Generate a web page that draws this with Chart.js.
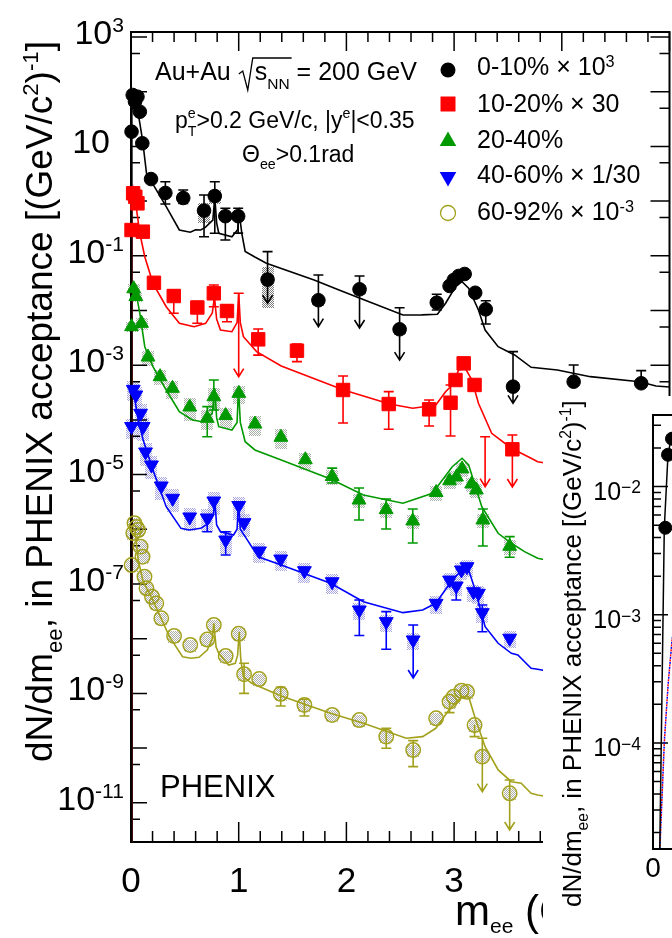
<!DOCTYPE html>
<html>
<head>
<meta charset="utf-8">
<title>PHENIX dielectron mass spectra</title>
<script src="https://cdn.jsdelivr.net/npm/chart.js@4.4.1/dist/chart.umd.min.js"></script>
<style>
  html, body { margin: 0; padding: 0; background: #fff; overflow: hidden; }
  #wrap { position: relative; width: 672px; height: 938px; overflow: hidden; }
  #main { position: absolute; left: 0; top: 0; }
  #inset { position: absolute; left: 543px; top: 396px; background: #fff; }
</style>
</head>
<body>
<div id="wrap">
  <canvas id="main" width="680" height="938"></canvas>
  <canvas id="inset" width="420" height="542"></canvas>
</div>
<script>
const _ = null;

// 0-10% x 10^3
const bkM = [0.005, 0.016, 0.037, 0.06, 0.082, 0.105, 0.186, 0.319, 0.485, 0.678, 0.778, 0.876, 0.995, 1.268, 1.74, 2.122, 2.494, 2.839, 2.958, 2.997, 3.043, 3.098, 3.196, 3.294, 3.547, 4.11, 4.737];
const bkY = [18.6, 87, 66, 81, 43, 11.4, 2.53, 1.41, 1.14, 0.67, 1.24, 0.53, 0.53, 0.0367, 0.0154, 0.0244, 0.00453, 0.0139, 0.0281, 0.0361, 0.0428, 0.0465, 0.0211, 0.0105, 4.05e-4, 4.99e-4, 4.67e-4];
const bkHi = [_, _, _, _, _, _, _, 2.26, 1.6, 1.29, 2.26, 0.738, 0.738, 0.119, 0.0446, 0.0428, 0.0112, 0.0198, _, _, _, _, _, 0.0151, 1.77e-3, 1.01e-3, 7.94e-4];
const bkLo = [_, _, _, _, _, _, _, 0.885, 0.91, 0.223, 0.258, 0.195, 0.26, 0.01355, 5.06e-3, 4.79e-3, 1.24e-3, 0.0102, _, _, _, _, _, 0.00566, 2.01e-4, _, _];
const bkLim = [0, 0, 0, 0, 0, 0, 0, 0, 0, 0, 0, 0, 0, 1, 1, 1, 1, 0, 0, 0, 0, 0, 0, 0, 1, 0, 0];
const bkSys = [0.1, 0.1, 0.1, 0.1, 0.1, 0.1, 0.1, 0.15, 0.15, 0.4, 0.3, 0.15, 0.15, 0.7, 0.2, 0.2, 0.2, 0.15, 0.1, 0.1, 0.1, 0.1, 0.1, 0.15, 0.2, 0.15, 0.15];
const bkCurveM = [0, 0.008, 0.02, 0.037, 0.067, 0.107, 0.144, 0.235, 0.327, 0.449, 0.55, 0.6, 0.647, 0.69, 0.76, 0.778, 0.795, 0.815, 0.937, 0.99, 1.005, 1.03, 1.06, 1.15, 1.257, 1.70, 1.914, 2.127, 2.525, 2.7, 2.845, 2.921, 3.013, 3.074, 3.135, 3.226, 3.288, 3.409, 3.562, 3.715, 3.959, 4.265, 4.722, 4.875, 5.0];
const bkCurveY = [1e-13, 40, 90, 94.7, 40.3, 13.1, 3.22, 1.6, 0.79, 0.297, 0.27, 0.30, 0.297, 0.33, 0.45, 1.2, 0.4, 0.258, 0.223, 0.3, 0.6, 0.25, 0.12, 0.095, 0.073, 0.0361, 0.0245, 0.0167, 0.00828, 0.0083, 0.00851, 0.01355, 0.0272, 0.0336, 0.0255, 0.0102, 0.0044, 0.00218, 0.00154, 9.16e-4, 8.17e-4, 6.17e-4, 4.99e-4, 4.17e-4, 4.0e-4];

// 10-20% x 30
const rdM = [0.005, 0.02, 0.04, 0.06, 0.11, 0.213, 0.397, 0.616, 0.769, 0.891, 1.0, 1.181, 1.541, 1.969, 2.393, 2.768, 2.967, 3.013, 3.089, 3.19, 3.288, 3.541];
const rdY = [0.296, 1.39, 1.2, 0.91, 0.276, 0.0321, 0.0184, 0.01135, 0.0206, 0.0098, 0.0206, 0.00297, 0.00184, 3.52e-4, 1.95e-4, 1.56e-4, 2.06e-4, 5.36e-4, 1.08e-3, 4.35e-4, 4.93e-5, 2.9e-5];
const rdHi = [_, _, _, _, _, _, 0.0237, 0.0145, 0.0292, 0.0126, 0.0206, 0.00459, 0.00244, 6.35e-4, 3.28e-4, 2.31e-4, 4.35e-4, _, _, _, 4.93e-5, 5.3e-5];
const rdLo = [_, _, _, _, _, _, 0.00889, 0.00583, 0.0117, 0.00624, 6.17e-4, 0.00153, 0.00116, 8.77e-5, 6.73e-5, 7.73e-5, 5.08e-5, _, _, _, 6.01e-6, 5.93e-6];
const rdLim = [0, 0, 0, 0, 0, 0, 0, 0, 0, 0, 2, 0, 0, 0, 0, 0, 0, 0, 0, 0, 2, 1];
const rdSys = [0.15, 0.15, 0.15, 0.15, 0.15, 0.15, 0.15, 0.15, 0.15, 0.15, 0, 0.15, 0.15, 0.15, 0.15, 0.15, 0.15, 0.15, 0.15, 0.15, 0, 0.15];
const rdCurveM = [0, 0.008, 0.021, 0.052, 0.082, 0.128, 0.204, 0.327, 0.449, 0.586, 0.693, 0.755, 0.775, 0.795, 0.831, 0.937, 0.985, 1.0, 1.015, 1.044, 1.166, 1.395, 1.975, 2.402, 2.616, 2.83, 2.921, 2.983, 3.043, 3.104, 3.166, 3.226, 3.349, 3.532, 3.715, 3.776, 4.5, 5.0];
const rdCurveY = [1e-13, 0.8, 1.6, 0.69, 0.258, 0.0962, 0.0314, 0.0117, 0.00583, 0.00506, 0.00583, 0.009, 0.0179, 0.007, 0.0044, 0.0041, 0.006, 0.0206, 0.006, 0.00332, 0.00177, 9.66e-4, 3.52e-4, 1.95e-4, 1.63e-4, 1.87e-4, 3.28e-4, 4.35e-4, 8.17e-4, 8.77e-4, 5.36e-4, 2.01e-4, 5.69e-5, 3.03e-5, 1.99e-5, 1.72e-5, 1e-5, 8e-6];

// 20-40%
const grM = [0.005, 0.025, 0.045, 0.098, 0.158, 0.27, 0.385, 0.545, 0.708, 0.769, 0.879, 1.001, 1.151, 1.392, 1.619, 1.868, 2.117, 2.369, 2.616, 2.833, 2.958, 3.022, 3.074, 3.163, 3.207, 3.267, 3.516];
const grY = [5.06e-3, 0.025, 0.018, 5.83e-3, 1.41e-3, 6.17e-4, 3.78e-4, 1.72e-4, 1.07e-4, 2.65e-4, 1.2e-4, 3.06e-4, 8.41e-5, 4.81e-5, 1.87e-5, 9.22e-6, 3.43e-6, 2.29e-6, 1.42e-6, 4.71e-6, 7.71e-6, 9.04e-6, 1.27e-5, 6.73e-6, 5.23e-6, 1.48e-6, 4.89e-7];
const grHi = [_, _, _, _, _, _, _, _, 1.75e-4, 5.36e-4, _, _, _, _, _, 1.31e-5, 5.69e-6, 3.58e-6, 2.35e-6, _, _, _, _, _, _, 2.35e-6, 7.33e-7];
const grLo = [_, _, _, _, _, _, _, _, 4.93e-5, 1.52e-4, _, _, _, _, _, 7.02e-6, 1.48e-6, 1.01e-6, 5.61e-7, _, _, _, _, _, _, 4.94e-7, 3.08e-7];
const grLim = [0, 0, 0, 0, 0, 0, 0, 0, 0, 0, 0, 0, 0, 0, 0, 0, 0, 0, 0, 0, 0, 0, 0, 0, 0, 0, 0];
const grSys = [0.2, 0.2, 0.2, 0.25, 0.3, 0.3, 0.35, 0.45, 0.4, 0.45, 0.4, 0.35, 0.4, 0.4, 0.35, 0.3, 0.3, 0.3, 0.3, 0.3, 0.3, 0.3, 0.3, 0.3, 0.3, 0.3, 0.3];
const grCurveM = [0, 0.008, 0.037, 0.082, 0.128, 0.204, 0.327, 0.449, 0.571, 0.662, 0.754, 0.778, 0.795, 0.815, 0.937, 0.985, 0.998, 1.015, 1.06, 1.151, 1.395, 1.853, 2.158, 2.525, 2.799, 2.983, 3.074, 3.135, 3.257, 3.409, 3.532, 3.654, 3.776, 4.5, 5.0];
const grCurveY = [1e-13, 0.02, 0.0272, 0.00889, 0.00218, 9.4e-4, 3.52e-4, 1.41e-4, 9.96e-5, 9.27e-5, 1.32e-4, 3.78e-4, 1.1e-4, 7.52e-5, 6.53e-5, 9e-5, 3.78e-4, 9e-5, 3.99e-5, 2.82e-5, 1.85e-5, 8.31e-6, 4.24e-6, 2.99e-6, 4.55e-6, 1.39e-5, 1.99e-5, 1.5e-5, 2.59e-6, 8.45e-7, 5.55e-7, 3.9e-7, 2.95e-7, 1.5e-7, 1.2e-7];

// 40-60% x 1/30
const blM = [0.005, 0.021, 0.045, 0.089, 0.113, 0.135, 0.19, 0.281, 0.387, 0.545, 0.708, 0.769, 0.879, 1.0, 1.05, 1.193, 1.39, 1.61, 1.868, 2.12, 2.37, 2.62, 2.833, 2.958, 3.02, 3.068, 3.12, 3.18, 3.226, 3.262, 3.516];
const blY = [7.57e-5, 3.62e-4, 2.85e-4, 1.32e-4, 7.57e-5, 2.59e-5, 1.5e-5, 6.19e-6, 3.69e-6, 1.68e-6, 1.61e-6, 3.29e-6, 6.37e-7, 2.72e-6, 1.32e-6, 4.01e-7, 2.86e-7, 1.75e-7, 1.1e-7, 3.35e-8, 2.05e-8, 9.47e-9, 4.43e-8, 1.18e-7, 9.19e-8, 1.8e-7, 2.07e-7, 7.23e-8, 6.76e-8, 2.99e-8, 1.02e-8];
const blHi = [_, _, _, _, _, _, _, _, _, _, _, _, 9.04e-7, _, _, _, _, _, _, 5.09e-8, 3.12e-8, 1.78e-8, _, _, _, _, _, _, _, 4.13e-8, _];
const blLo = [_, _, _, _, _, _, _, _, _, _, 9.04e-7, _, 3.39e-7, _, _, _, _, _, _, 1.14e-8, 6.4e-9, 1.91e-9, _, _, 5.09e-8, _, _, _, _, 1.34e-8, _];
const blLim = [0, 0, 0, 0, 0, 0, 0, 0, 0, 0, 0, 0, 0, 0, 0, 0, 0, 0, 0, 0, 0, 1, 0, 0, 0, 0, 0, 0, 0, 0, 0];
const blSys = [0.4, 0.4, 0.4, 0.45, 0.45, 0.45, 0.45, 0.45, 0.45, 0.45, 0.45, 0.45, 0.45, 0.45, 0.45, 0.4, 0.4, 0.4, 0.4, 0.35, 0.35, 0.35, 0.35, 0.35, 0.35, 0.35, 0.35, 0.35, 0.35, 0.35, 0.35];
const blCurveM = [0, 0.008, 0.021, 0.067, 0.113, 0.204, 0.327, 0.464, 0.54, 0.647, 0.723, 0.765, 0.778, 0.795, 0.831, 0.952, 0.985, 0.998, 1.015, 1.06, 1.181, 1.395, 1.853, 2.158, 2.525, 2.708, 2.83, 2.983, 3.074, 3.135, 3.196, 3.288, 3.409, 3.532, 3.592, 3.715, 3.776, 4.5, 5.0];
const blCurveY = [1e-13, 2.5e-4, 3.52e-4, 9.96e-5, 4.29e-5, 1.21e-5, 2.59e-6, 1.04e-6, 9.7e-7, 1.04e-6, 1.29e-6, 1.8e-6, 3.43e-6, 1.2e-6, 9.04e-7, 7.87e-7, 1.0e-6, 3.2e-6, 1.0e-6, 7.33e-7, 3.15e-7, 2.22e-7, 1.03e-7, 4.75e-8, 2.99e-8, 3.35e-8, 4.43e-8, 1.18e-7, 1.8e-7, 1.8e-7, 7.76e-8, 1.66e-8, 8.24e-9, 5.41e-9, 5.04e-9, 2.88e-9, 2.76e-9, 1.5e-9, 1.2e-9];

// 60-92% x 10^-3
const olM = [0.006, 0.021, 0.032, 0.05, 0.067, 0.089, 0.107, 0.125, 0.144, 0.195, 0.235, 0.281, 0.4, 0.55, 0.708, 0.769, 0.879, 1.0, 1.05, 1.19, 1.39, 1.61, 1.868, 2.12, 2.37, 2.62, 2.833, 2.958, 2.997, 3.068, 3.12, 3.19, 3.262, 3.516];
const olY = [2.22e-7, 8.55e-7, 1.29e-6, 1.1e-6, 9.7e-7, 4.81e-7, 3.15e-7, 1.36e-7, 8.34e-8, 5.86e-8, 4.43e-8, 2.36e-8, 1.12e-8, 7.67e-9, 9.66e-9, 1.78e-8, 4.83e-9, 1.23e-8, 2.24e-9, 1.83e-9, 9.84e-10, 6.14e-10, 4.03e-10, 3.26e-10, 1.62e-10, 9.23e-11, 3.51e-10, 7.05e-10, 8.7e-10, 1.12e-9, 1.07e-9, 2.64e-10, 6.97e-11, 1.49e-11];
const olHi = [_, _, _, _, _, _, _, _, _, _, _, _, _, _, _, _, _, _, 3.55e-9, _, 1.29e-9, 7.8e-10, _, _, 2.3e-10, 1.37e-10, _, _, _, _, _, _, 1.51e-10, 2.61e-11];
const olLo = [_, _, _, _, _, _, _, _, _, _, _, _, _, _, _, _, _, _, 1.0e-9, _, 5.89e-10, 3.86e-10, _, _, 9.91e-11, 4.58e-11, _, 4.45e-10, _, _, _, 1.62e-10, 1.6e-11, 3.18e-12];
const olLim = [0, 0, 0, 0, 0, 0, 0, 0, 0, 0, 0, 0, 0, 0, 0, 0, 0, 0, 0, 0, 0, 0, 0, 0, 0, 0, 0, 0, 0, 0, 0, 0, 1, 1];
const olSys = [0.25, 0.25, 0.25, 0.25, 0.25, 0.25, 0.25, 0.25, 0.25, 0.25, 0.25, 0.25, 0.25, 0.25, 0.25, 0.25, 0.25, 0.25, 0.25, 0.25, 0.25, 0.25, 0.25, 0.25, 0.25, 0.25, 0.25, 0.25, 0.25, 0.25, 0.25, 0.25, 0.25, 0.25];
const olCurveM = [0, 0.008, 0.037, 0.067, 0.113, 0.204, 0.357, 0.479, 0.556, 0.632, 0.708, 0.755, 0.769, 0.79, 0.815, 0.907, 0.968, 0.99, 1.005, 1.02, 1.044, 1.12, 1.395, 1.853, 2.158, 2.555, 2.708, 2.83, 2.952, 3.074, 3.135, 3.196, 3.288, 3.409, 3.532, 3.623, 3.715, 3.776, 4.5, 5.0];
const olCurveY = [1e-13, 1.1e-6, 9.7e-7, 2.75e-7, 1.1e-7, 4.99e-8, 1.09e-8, 4.69e-9, 4.39e-9, 4.57e-9, 6.21e-9, 1.0e-8, 1.91e-8, 7e-9, 5.41e-9, 3.3e-9, 3.55e-9, 5e-9, 1.34e-8, 4e-9, 2.02e-9, 1.53e-9, 8.95e-10, 4.33e-10, 2.84e-10, 1.51e-10, 1.62e-10, 2.3e-10, 4.98e-10, 8.71e-10, 8.71e-10, 3.51e-10, 1.06e-10, 3.98e-11, 2.43e-11, 2.27e-11, 1.49e-11, 1.39e-11, 8e-12, 6e-12];

// inset: low-mass zoom, 0-10%
const insetPtM = [0.0123, 0.015, 0.019];
const insetPtY = [4.77e-3, 0.0177, 0.0236];
const insetBkM = [0.0066, 0.0113, 0.015, 0.019, 0.026];
const insetBkY = [1.2e-5, 4.77e-3, 0.0177, 0.026, 0.034];
const insetRdM = [0.0063, 0.0113, 0.015, 0.019, 0.026];
const insetRdY = [1.2e-5, 1.0e-4, 2.8e-4, 6.3e-4, 1.3e-3];
const insetBlM = [0.0064, 0.0114, 0.0152, 0.0192, 0.026];
const insetBlY = [1.2e-5, 1.05e-4, 2.9e-4, 6.5e-4, 1.3e-3];

const yLabelExps = [3, 1, -1, -3, -5, -7, -9, -11];
const xLabels = [0, 1, 2, 3, 4, 5];
const insetLabelExps = [-2, -3, -4];

const FONT = '"Liberation Sans", Arial, Helvetica, sans-serif';
const OLIVE = '#a3a11c';
const GREEN = '#009a00';

// stippled fill for the systematic boxes
function stipple(rgba) {
  const c = document.createElement('canvas');
  c.width = 2; c.height = 2;
  const g = c.getContext('2d');
  g.fillStyle = rgba;
  g.fillRect(0, 0, 1, 1);
  g.fillRect(1, 1, 1, 1);
  return c;
}

const SERIES = [
  {m: bkM, y: bkY, hi: bkHi, lo: bkLo, lim: bkLim, sys: bkSys, cm: bkCurveM, cy: bkCurveY,
   color: '#000000', box: 'rgba(80,80,80,0.75)', style: 'circle', r: 6.8, rot: 0, open: false},
  {m: rdM, y: rdY, hi: rdHi, lo: rdLo, lim: rdLim, sys: rdSys, cm: rdCurveM, cy: rdCurveY,
   color: '#ff0000', box: 'rgba(110,110,110,0.6)', style: 'rect', r: 9.5, rot: 0, open: false},
  {m: grM, y: grY, hi: grHi, lo: grLo, lim: grLim, sys: grSys, cm: grCurveM, cy: grCurveY,
   color: GREEN, box: 'rgba(110,125,110,0.6)', style: 'triangle', r: 8, rot: 0, open: false},
  {m: blM, y: blY, hi: blHi, lo: blLo, lim: blLim, sys: blSys, cm: blCurveM, cy: blCurveY,
   color: '#0000ff', box: 'rgba(110,110,200,0.6)', style: 'triangle', r: 8, rot: 180, open: false},
  {m: olM, y: olY, hi: olHi, lo: olLo, lim: olLim, sys: olSys, cm: olCurveM, cy: olCurveY,
   color: OLIVE, box: 'rgba(120,120,110,0.6)', style: 'circle', r: 7.2, rot: 0, open: true}
];

const toXY = (ms, ys) => ms.map((m, i) => ({x: m, y: ys[i]}));

// text with super/subscripts, drawn run by run
function drawRich(ctx, parts, x, y, size, o = {}) {
  const supS = o.supS || 0.62, subS = o.subS || 0.62;
  const supDy = o.supDy || 0.36, subDy = o.subDy || 0.28;
  const items = parts.map(([t, k, stay]) => {
    const s = k === 'sup' ? size * supS : k === 'sub' ? size * subS : size;
    ctx.font = s + 'px ' + FONT;
    return {t, k, s, w: stay ? 0 : ctx.measureText(t).width};
  });
  const total = items.reduce((a, it) => a + it.w, 0);
  let cx = o.align === 'right' ? x - total : o.align === 'center' ? x - total / 2 : x;
  const x0 = cx;
  ctx.textAlign = 'left';
  ctx.textBaseline = 'alphabetic';
  items.forEach(it => {
    ctx.font = it.s + 'px ' + FONT;
    const dy = it.k === 'sup' ? -size * supDy : it.k === 'sub' ? size * subDy : 0;
    ctx.fillText(it.t, cx, y + dy);
    cx += it.w;
  });
  return {x0, x1: cx};
}

function marker(ctx, style, x, y, color) {
  ctx.save();
  ctx.fillStyle = color;
  ctx.strokeStyle = color;
  ctx.beginPath();
  if (style === 'circle') ctx.arc(x, y, 7.5, 0, Math.PI * 2);
  if (style === 'square') ctx.rect(x - 7.5, y - 7.5, 15, 15);
  if (style === 'up') { ctx.moveTo(x, y - 9.5); ctx.lineTo(x + 8.3, y + 5); ctx.lineTo(x - 8.3, y + 5); ctx.closePath(); }
  if (style === 'down') { ctx.moveTo(x, y + 9.5); ctx.lineTo(x + 8.3, y - 5); ctx.lineTo(x - 8.3, y - 5); ctx.closePath(); }
  if (style === 'open') { ctx.lineWidth = 1.3; ctx.arc(x, y, 7.5, 0, Math.PI * 2); ctx.stroke(); }
  else ctx.fill();
  ctx.restore();
}

const titleParts = [['dN/dm'], ['ee', 'sub'], [', in PHENIX acceptance [(GeV/c'], ['2', 'sup'], [')'], ['-1', 'sup'], [']']];

// frame, ticks, systematic boxes and error bars under the markers
const backdrop = {
  id: 'backdrop',
  beforeDatasetsDraw(chart) {
    const {ctx, chartArea: a, scales: {x, y}} = chart;
    ctx.save();
    SERIES.forEach(s => {
      ctx.fillStyle = ctx.createPattern(stipple(s.box), 'repeat');
      s.m.forEach((m, i) => {
        if (!s.sys[i]) return;
        const px = Math.round(x.getPixelForValue(m));
        const top = Math.round(y.getPixelForValue(s.y[i] * (1 + s.sys[i])));
        const bot = Math.round(y.getPixelForValue(s.y[i] * (1 - s.sys[i])));
        ctx.fillRect(px - 6, top, 12, bot - top);
      });
    });
    SERIES.forEach(s => {
      ctx.strokeStyle = s.color;
      ctx.lineWidth = 1.6;
      s.m.forEach((m, i) => {
        const hi = s.hi[i], lo = s.lo[i];
        if (hi == null && lo == null) return;
        const px = x.getPixelForValue(m);
        const pTop = y.getPixelForValue(hi == null ? s.y[i] : hi);
        const pBot = y.getPixelForValue(lo == null ? s.y[i] : lo);
        ctx.beginPath();
        ctx.moveTo(px, pTop);
        ctx.lineTo(px, pBot);
        if (hi != null) { ctx.moveTo(px - 5, pTop); ctx.lineTo(px + 5, pTop); }
        if (lo != null) {
          if (s.lim[i]) { ctx.moveTo(px - 5, pBot - 8); ctx.lineTo(px, pBot); ctx.lineTo(px + 5, pBot - 8); }
          else { ctx.moveTo(px - 5, pBot); ctx.lineTo(px + 5, pBot); }
        }
        ctx.stroke();
      });
    });

    ctx.strokeStyle = '#000';
    ctx.lineWidth = 2;
    ctx.strokeRect(a.left, a.top, a.right - a.left, a.bottom - a.top);
    ctx.lineWidth = 1.5;
    ctx.beginPath();
    for (let i = 0; i <= 25; i++) {
      const px = x.getPixelForValue(i / 5);
      const major = i % 5 === 0;
      ctx.moveTo(px, a.bottom); ctx.lineTo(px, a.bottom - (major ? 20 : 11));
      ctx.moveTo(px, a.top); ctx.lineTo(px, a.top + (major ? 19 : 10));
    }
    for (let e = -12; e <= 3; e++) {
      [[Math.pow(10, e), true], [5 * Math.pow(10, e - 1), false]].forEach(([v, major]) => {
        if (v < y.min || v > y.max) return;
        const py = y.getPixelForValue(v);
        ctx.moveTo(a.left, py); ctx.lineTo(a.left + (major ? 16 : 9), py);
        ctx.moveTo(a.right, py); ctx.lineTo(a.right - (major ? 19 : 10), py);
      });
    }
    ctx.stroke();
    ctx.restore();
  }
};

const texts = {
  id: 'texts',
  afterDraw(chart) {
    const {ctx, scales: {x, y}} = chart;
    ctx.save();
    ctx.fillStyle = '#000';
    ctx.strokeStyle = '#000';

    yLabelExps.forEach(e => {
      const py = y.getPixelForValue(Math.pow(10, e)) + 7;
      if (e === 1) drawRich(ctx, [['10']], 110, py, 34, {align: 'right'});
      else drawRich(ctx, [['10'], [String(e), 'sup']], 124, py, 34, {align: 'right'});
    });
    xLabels.forEach(v => drawRich(ctx, [[String(v)]], x.getPixelForValue(v), 892, 35, {align: 'center'}));

    ctx.save();
    ctx.translate(52, 762);
    ctx.rotate(-Math.PI / 2);
    drawRich(ctx, titleParts, 0, 0, 37, {subS: 0.6, subDy: 0.28, supS: 0.6, supDy: 0.38});
    ctx.restore();

    drawRich(ctx, [['m'], ['ee', 'sub'], [' (GeV/c'], ['2', 'sup'], [')']], 455, 925, 42,
      {subS: 0.5, subDy: 0.2, supS: 0.6, supDy: 0.4});

    // collision system
    const r1 = drawRich(ctx, [['Au+Au']], 155, 80, 25);
    const rx = r1.x1 + 8;
    const r2 = drawRich(ctx, [['s'], ['NN', 'sub']], rx + 16, 80, 25, {subDy: 0.35});
    ctx.lineWidth = 1.3;
    ctx.beginPath();
    ctx.moveTo(rx, 74); ctx.lineTo(rx + 4, 71); ctx.lineTo(rx + 9, 90);
    ctx.lineTo(rx + 14, 58); ctx.lineTo(r2.x1 + 2, 58);
    ctx.stroke();
    drawRich(ctx, [[' = 200 GeV']], r2.x1, 80, 25);

    drawRich(ctx, [['p'], ['e', 'sup', true], ['T', 'sub'], ['>0.2 GeV/c, |y'], ['e', 'sup'], ['|<0.35']], 175, 128, 23,
      {supS: 0.62, supDy: 0.45, subS: 0.62, subDy: 0.35});
    drawRich(ctx, [['\u0398'], ['ee', 'sub'], ['>0.1rad']], 242, 162, 23, {subDy: 0.3});

    drawRich(ctx, [['PHENIX']], 160, 797, 31);

    // legend
    const legend = [
      ['circle', '#000', [['0-10% \u00d7 10'], ['3', 'sup']], 70, 75],
      ['square', '#ff0000', [['10-20% \u00d7 30']], 104, 112],
      ['up', GREEN, [['20-40%']], 141, 148],
      ['down', '#0000ff', [['40-60% \u00d7 1/30']], 177, 183],
      ['open', OLIVE, [['60-92% \u00d7 10'], ['-3', 'sup']], 213, 220]
    ];
    legend.forEach(([st, col, parts, my, base]) => {
      marker(ctx, st, 448, my, col);
      ctx.fillStyle = '#000';
      drawRich(ctx, parts, 477, base, 25, {supS: 0.65, supDy: 0.33});
    });
    ctx.restore();
  }
};

const datasets = [];
SERIES.forEach(s => {
  datasets.push({
    data: toXY(s.m, s.y),
    showLine: false,
    order: 0,
    clip: false,
    pointStyle: s.style,
    pointRotation: s.rot,
    pointRadius: c => (s.lim[c.dataIndex] === 2 ? 0 : s.r),
    pointBackgroundColor: s.open ? 'rgba(0,0,0,0)' : s.color,
    pointBorderColor: s.color,
    pointBorderWidth: s.open ? 1.5 : 1
  });
  datasets.push({
    data: toXY(s.cm, s.cy),
    showLine: true,
    order: 1,
    pointRadius: 0,
    borderColor: s.color,
    borderWidth: 1.6,
    tension: 0,
    fill: false
  });
});

const hiddenAxis = {
  display: true,
  bounds: 'data',
  grid: {display: false, drawTicks: false},
  border: {display: false},
  ticks: {display: false}
};

new Chart(document.getElementById('main'), {
  type: 'scatter',
  data: {datasets},
  options: {
    responsive: false,
    animation: false,
    events: [],
    layout: {padding: {left: 131, top: 32, right: 3, bottom: 96}},
    plugins: {legend: {display: false}, tooltip: {enabled: false}},
    scales: {
      x: {...hiddenAxis, type: 'linear', min: 0, max: 5, afterFit: s => { s.height = 0; }},
      y: {...hiddenAxis, type: 'logarithmic', min: Math.pow(10, -11.717), max: Math.pow(10, 3.0914),
          afterFit: s => { s.width = 0; }}
    }
  },
  plugins: [backdrop, texts]
});

// inset
const insetFrame = {
  id: 'insetFrame',
  beforeDatasetsDraw(chart) {
    const {ctx, chartArea: a, scales: {x, y}} = chart;
    ctx.save();
    ctx.strokeStyle = '#000';
    ctx.lineWidth = 2;
    ctx.strokeRect(a.left, a.top, a.right - a.left, a.bottom - a.top);
    ctx.lineWidth = 1.5;
    ctx.beginPath();
    for (let e = -5; e <= -1; e++) {
      for (let k = 1; k <= 9; k++) {
        const v = k * Math.pow(10, e);
        if (v < y.min || v > y.max) continue;
        const py = y.getPixelForValue(v);
        ctx.moveTo(a.left, py);
        ctx.lineTo(a.left + (k === 1 ? 15 : 8), py);
      }
    }
    for (let i = 1; i <= 6; i++) {
      const px = x.getPixelForValue(i * 0.05);
      ctx.moveTo(px, a.bottom); ctx.lineTo(px, a.bottom - (i % 2 === 0 ? 14 : 8));
    }
    ctx.stroke();
    ctx.restore();
  },
  afterDraw(chart) {
    const {ctx, scales: {x, y}} = chart;
    ctx.save();
    ctx.fillStyle = '#000';
    insetLabelExps.forEach(e => {
      const py = y.getPixelForValue(Math.pow(10, e)) + 13;
      drawRich(ctx, [['10'], ['\u2212' + String(-e), 'sup']], 98, py, 25, {supS: 0.7, supDy: 0.25, align: 'right'});
    });
    drawRich(ctx, [['0']], x.getPixelForValue(0), 481, 28, {align: 'center'});
    ctx.translate(38, 511);
    ctx.rotate(-Math.PI / 2);
    drawRich(ctx, titleParts, 0, 0, 26, {subS: 0.6, subDy: 0.28, supS: 0.6, supDy: 0.38});
    ctx.restore();
  }
};

new Chart(document.getElementById('inset'), {
  type: 'scatter',
  data: {
    datasets: [
      {data: toXY(insetPtM, insetPtY), showLine: false, order: 0, clip: false, pointStyle: 'circle',
       pointRadius: 6.5, pointBackgroundColor: '#000', pointBorderColor: '#000'},
      {data: toXY(insetBkM, insetBkY), showLine: true, order: 1, pointRadius: 0, borderColor: '#000', borderWidth: 1.5},
      {data: toXY(insetRdM, insetRdY), showLine: true, order: 2, pointRadius: 0, borderColor: '#ff0000',
       borderWidth: 1.5, borderDash: [2, 3]},
      {data: toXY(insetBlM, insetBlY), showLine: true, order: 2, pointRadius: 0, borderColor: '#0000ff',
       borderWidth: 1.5, borderDash: [2, 3], borderDashOffset: 2.5}
    ]
  },
  options: {
    responsive: false,
    animation: false,
    events: [],
    layout: {padding: {left: 110, top: 19, right: 10, bottom: 89}},
    plugins: {legend: {display: false}, tooltip: {enabled: false}},
    scales: {
      x: {...hiddenAxis, type: 'linear', min: 0, max: 0.3, afterFit: s => { s.height = 0; }},
      y: {...hiddenAxis, type: 'logarithmic', min: Math.pow(10, -4.827), max: Math.pow(10, -1.442),
          afterFit: s => { s.width = 0; }}
    }
  },
  plugins: [insetFrame]
});
</script>
</body>
</html>
